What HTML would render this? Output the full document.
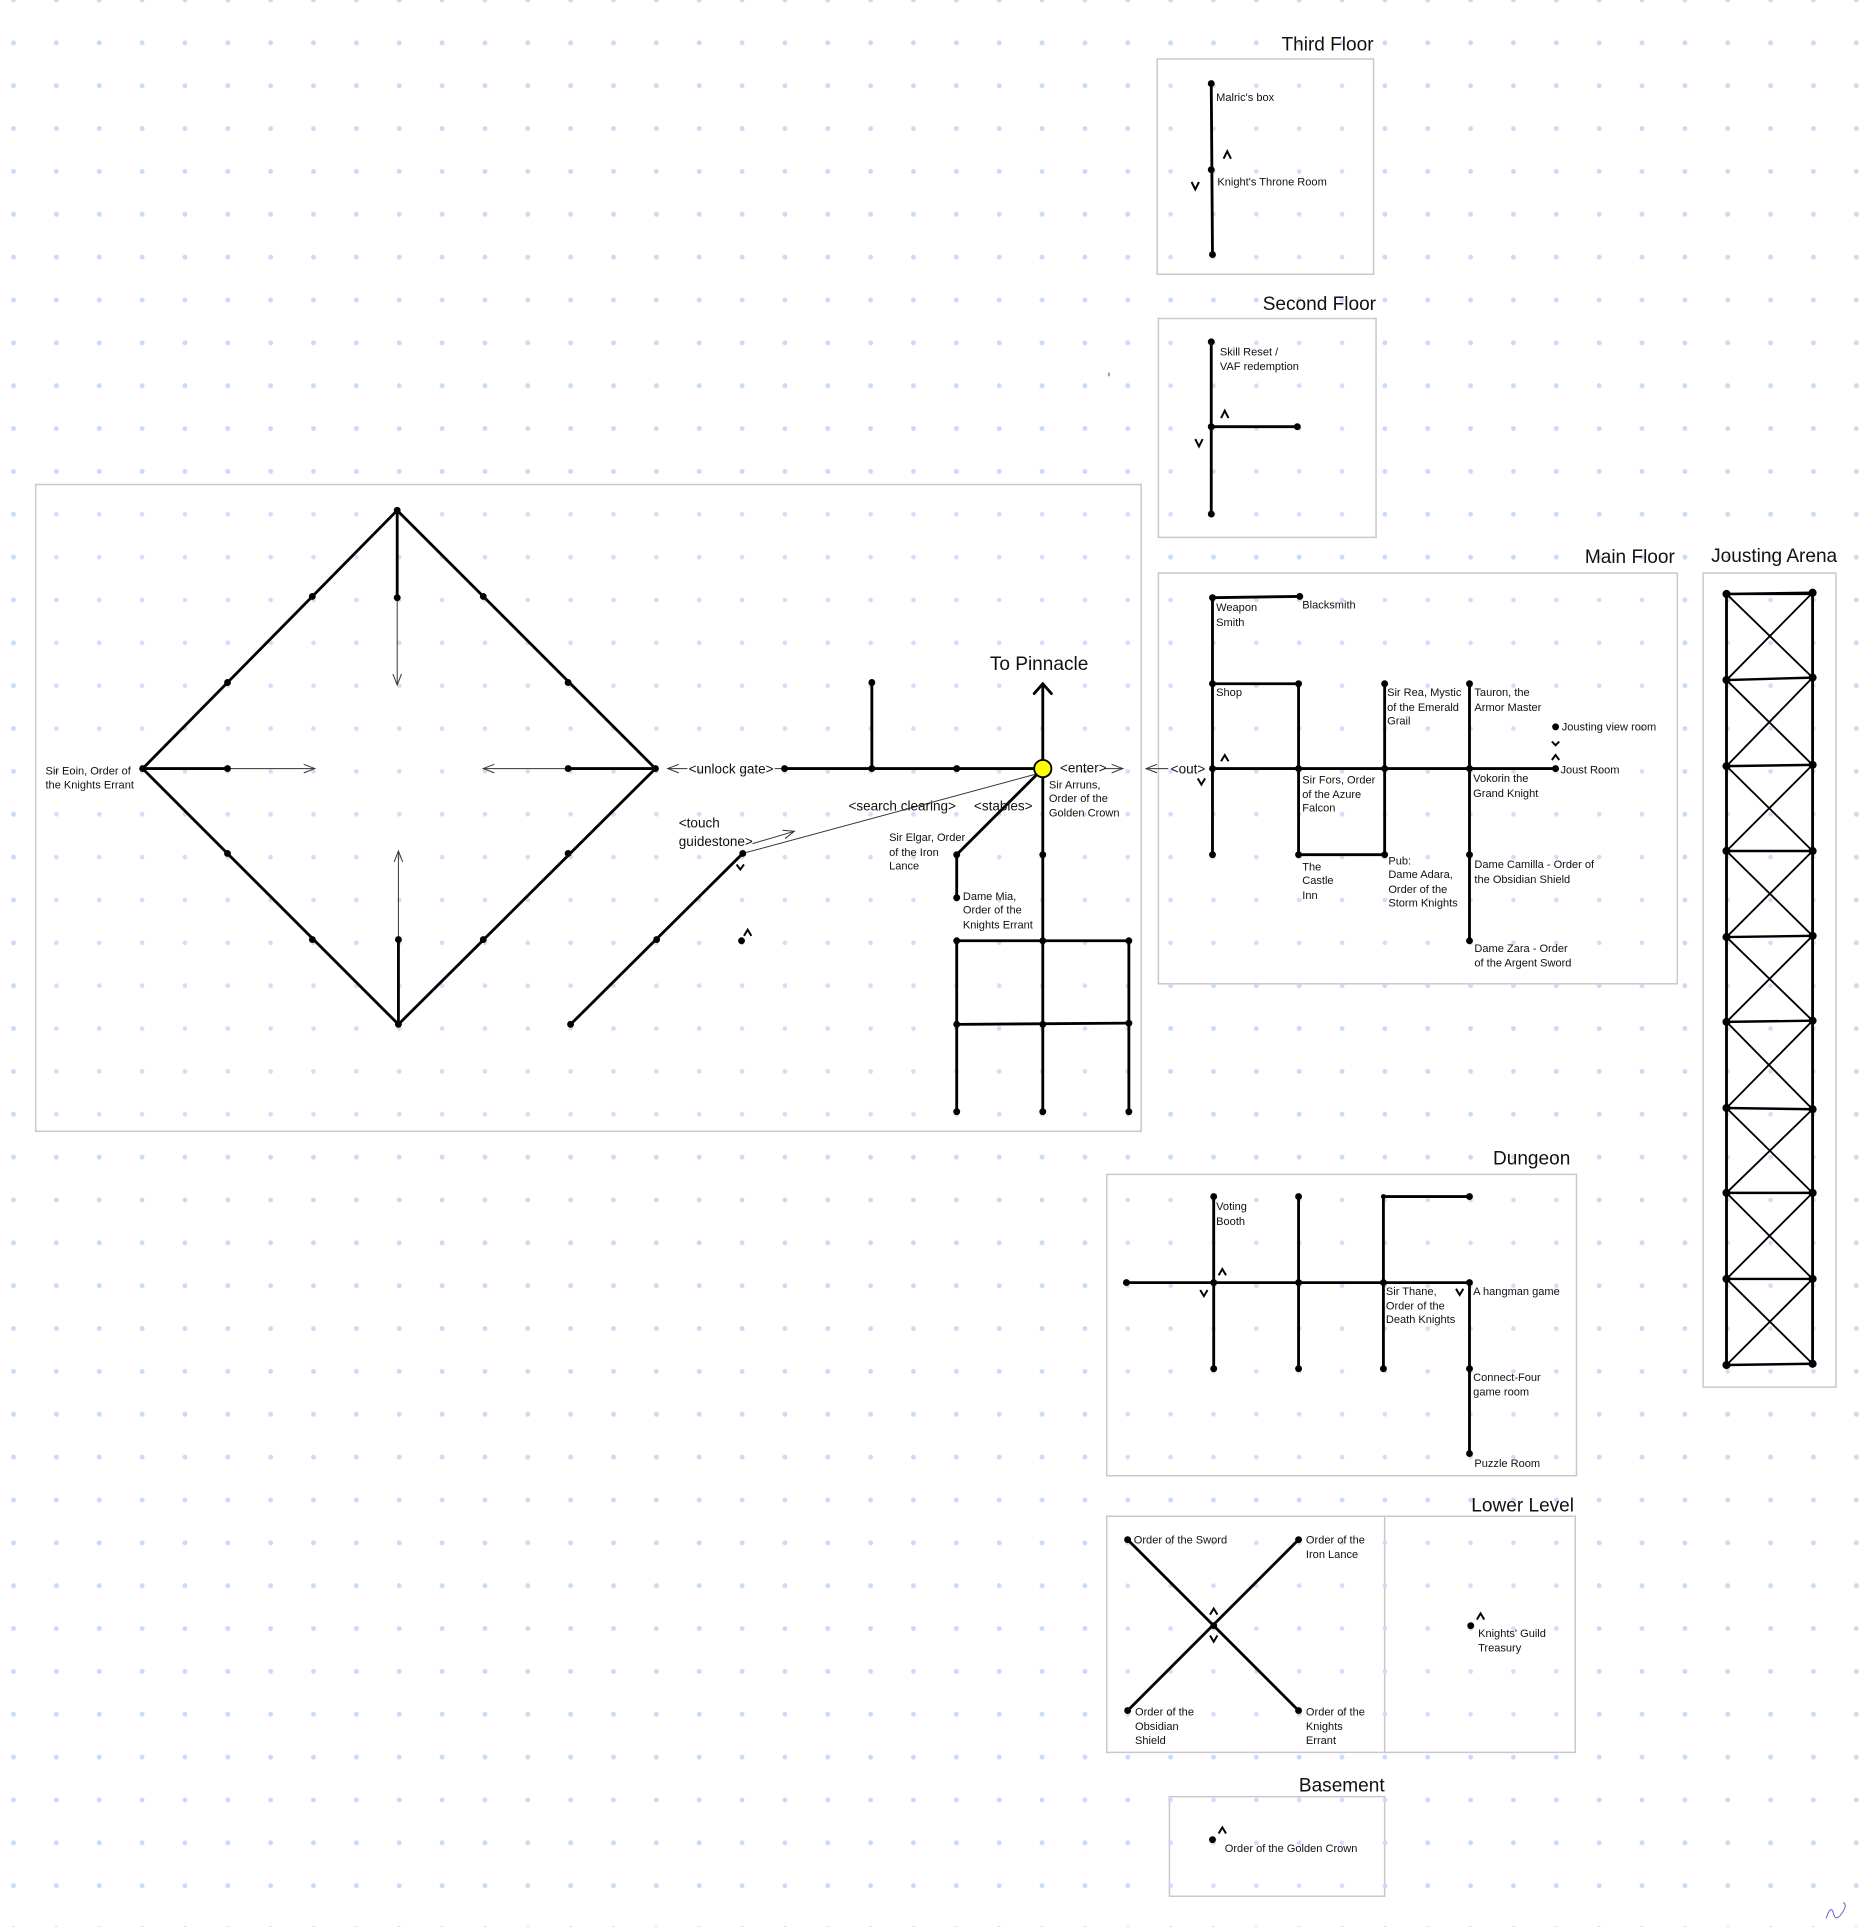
<!DOCTYPE html>
<html><head><meta charset="utf-8"><style>html,body{margin:0;padding:0;background:#fff}svg{display:block}</style></head>
<body>
<svg width="1863" height="1927" viewBox="0 0 1515 1567" preserveAspectRatio="none" xmlns="http://www.w3.org/2000/svg" font-family="Liberation Sans, sans-serif">
<defs>
<pattern id="d" x="-6.4" y="-17.4" width="34.85" height="34.85" patternUnits="userSpaceOnUse"><circle cx="17.4" cy="17.4" r="1.9" fill="#c9dcf6"/></pattern>
<marker id="a" markerWidth="10" markerHeight="8" refX="9" refY="4" orient="auto" markerUnits="userSpaceOnUse"><path d="M0,0.5 L9,4 L0,7.5" fill="none" stroke="#333" stroke-width="0.8"/></marker>
</defs>
<rect width="1515" height="1567" fill="#fff"/>
<rect width="1515" height="1567" fill="url(#d)"/>

<g fill="#fff" stroke="#c8c8c8" stroke-width="1.2">
<rect x="29" y="394" width="899" height="526"/>
<rect x="941" y="48" width="176" height="175"/>
<rect x="942" y="259" width="177" height="178"/>
<rect x="942" y="466" width="422" height="334"/>
<rect x="1385" y="466" width="108" height="662"/>
<rect x="900" y="955" width="382" height="245"/>
<rect x="900" y="1233" width="381" height="192"/>
<line x1="1126" y1="1233" x2="1126" y2="1425"/>
<rect x="951" y="1461" width="175" height="81"/>
</g>
<rect width="1515" height="1567" fill="url(#d)" opacity="0.9"/>

<g font-size="15.5" text-anchor="end" fill="#111">
<text x="1117" y="41">Third Floor</text>
<text x="1119" y="252">Second Floor</text>
<text x="1362" y="458">Main Floor</text>
<text x="1494" y="457">Jousting Arena</text>
<text x="1277" y="947">Dungeon</text>
<text x="1280" y="1229">Lower Level</text>
<text x="1126" y="1457">Basement</text>
</g>
<text x="845" y="545" font-size="15.5" text-anchor="middle" fill="#111">To Pinnacle</text>

<!-- thick lines -->
<g stroke="#000" stroke-width="2.3" fill="none" stroke-linecap="round">
<polygon points="323,415 533,625 324,833 116,625"/>
<line x1="323" y1="415" x2="323" y2="486"/>
<line x1="324" y1="833" x2="324" y2="764"/>
<line x1="116" y1="625" x2="185" y2="625"/>
<line x1="533" y1="625" x2="462" y2="625"/>
<line x1="638" y1="625" x2="848" y2="625"/>
<line x1="709" y1="555" x2="709" y2="625"/>
<line x1="848" y1="625" x2="848" y2="557"/>
<polyline points="841,564 848,556 855,564"/>
<line x1="848" y1="625" x2="778" y2="695"/>
<line x1="778" y1="695" x2="778" y2="730"/>
<line x1="604" y1="694" x2="464" y2="833"/>
<line x1="848" y1="625" x2="848" y2="904"/>
<line x1="778" y1="765" x2="918" y2="765"/>
<line x1="778" y1="833" x2="918" y2="832"/>
<line x1="778" y1="765" x2="778" y2="904"/>
<line x1="918" y1="765" x2="918" y2="904"/>
<!-- third -->
<line x1="985" y1="68" x2="986" y2="207"/>
<!-- second -->
<line x1="985" y1="278" x2="985" y2="418"/>
<line x1="985" y1="347" x2="1055" y2="347"/>
<!-- main -->
<line x1="986" y1="486" x2="986" y2="695"/>
<line x1="986" y1="486" x2="1057" y2="485"/>
<polyline points="986,556 1056,556 1056,695 1126,695 1126,556"/>
<line x1="986" y1="625" x2="1265" y2="625"/>
<line x1="1195" y1="556" x2="1195" y2="765"/>
<!-- jousting -->
<line x1="1404" y1="483" x2="1404" y2="1110"/>
<line x1="1474" y1="483" x2="1474" y2="1110"/>
<!-- dungeon -->
<line x1="916" y1="1043" x2="1195" y2="1043"/>
<line x1="987" y1="973" x2="987" y2="1113"/>
<line x1="1056" y1="973" x2="1056" y2="1113"/>
<polyline points="1195,973 1125,973 1125,1113"/>
<line x1="1195" y1="1043" x2="1195" y2="1182"/>
<!-- lower -->
<line x1="917" y1="1252" x2="1056" y2="1391"/>
<line x1="1056" y1="1252" x2="917" y2="1391"/>
</g>

<!-- jousting Xs and rungs -->
<g stroke="#000" stroke-width="1.8" fill="none">
<path id="jx" d="M1404,483 L1474,483"/>
</g>
<g stroke="#000" stroke-width="2" fill="none" stroke-linecap="round">
<path d="M1404,483L1474,482M1404,553L1474,551M1404,623L1474,622M1404,692L1474,692M1404,762L1474,761M1404,831L1474,830M1404,901L1474,902M1404,970L1474,970M1404,1040L1474,1040M1404,1110L1474,1109"/>
<path stroke-width="1.5" d="M1404,483L1474,551M1474,482L1404,553M1404,553L1474,622M1474,551L1404,623M1404,623L1474,692M1474,622L1404,692M1404,692L1474,761M1474,692L1404,762M1404,762L1474,830M1474,761L1404,831M1404,831L1474,902M1474,830L1404,901M1404,901L1474,970M1474,902L1404,970M1404,970L1474,1040M1474,970L1404,1040M1404,1040L1474,1109M1474,1040L1404,1110"/>
</g>

<!-- thin arrows -->
<g stroke="#333" stroke-width="0.8" fill="none">
<line x1="323" y1="486" x2="323" y2="557" marker-end="url(#a)"/>
<line x1="324" y1="764" x2="324" y2="692" marker-end="url(#a)"/>
<line x1="185" y1="625" x2="256" y2="625" marker-end="url(#a)"/>
<line x1="462" y1="625" x2="393" y2="625" marker-end="url(#a)"/>
<line x1="559" y1="625" x2="543" y2="625" marker-end="url(#a)"/>
<line x1="630" y1="625" x2="638" y2="625"/>
<line x1="898" y1="625" x2="913" y2="625" marker-end="url(#a)"/>
<line x1="950" y1="625" x2="932" y2="625" marker-end="url(#a)"/>
<line x1="612" y1="686" x2="646" y2="676" marker-end="url(#a)"/>
<line x1="848" y1="628" x2="604" y2="694"/>
</g>

<!-- dots -->
<g fill="#000">
<circle cx="323" cy="415" r="2.8"/><circle cx="116" cy="625" r="2.8"/><circle cx="533" cy="625" r="2.8"/><circle cx="324" cy="833" r="2.8"/>
<circle cx="254" cy="485" r="2.8"/><circle cx="185" cy="555" r="2.8"/><circle cx="393" cy="485" r="2.8"/><circle cx="462" cy="555" r="2.8"/>
<circle cx="185" cy="694" r="2.8"/><circle cx="254" cy="764" r="2.8"/><circle cx="393" cy="764" r="2.8"/><circle cx="462" cy="694" r="2.8"/>
<circle cx="323" cy="486" r="2.8"/><circle cx="324" cy="764" r="2.8"/><circle cx="185" cy="625" r="2.8"/><circle cx="462" cy="625" r="2.8"/>
<circle cx="638" cy="625" r="2.8"/><circle cx="709" cy="625" r="2.8"/><circle cx="778" cy="625" r="2.8"/><circle cx="709" cy="555" r="2.8"/>
<circle cx="778" cy="695" r="2.8"/><circle cx="778" cy="730" r="2.8"/>
<circle cx="604" cy="694" r="2.8"/><circle cx="534" cy="764" r="2.8"/><circle cx="464" cy="833" r="2.8"/><circle cx="603" cy="765" r="2.8"/>
<circle cx="848" cy="695" r="2.8"/><circle cx="848" cy="765" r="2.8"/><circle cx="848" cy="833" r="2.8"/><circle cx="848" cy="904" r="2.8"/>
<circle cx="778" cy="765" r="2.8"/><circle cx="918" cy="765" r="2.8"/><circle cx="778" cy="833" r="2.8"/><circle cx="918" cy="832" r="2.8"/>
<circle cx="778" cy="904" r="2.8"/><circle cx="918" cy="904" r="2.8"/>
<circle cx="985" cy="68" r="2.8"/><circle cx="985" cy="138" r="2.8"/><circle cx="986" cy="207" r="2.8"/>
<circle cx="985" cy="278" r="2.8"/><circle cx="985" cy="347" r="2.8"/><circle cx="1055" cy="347" r="2.8"/><circle cx="985" cy="418" r="2.8"/>
<circle cx="986" cy="486" r="2.8"/><circle cx="1057" cy="485" r="2.8"/><circle cx="986" cy="556" r="2.8"/><circle cx="1056" cy="556" r="2.8"/>
<circle cx="986" cy="625" r="2.8"/><circle cx="986" cy="695" r="2.8"/><circle cx="1056" cy="625" r="2.8"/><circle cx="1056" cy="695" r="2.8"/>
<circle cx="1126" cy="556" r="2.8"/><circle cx="1126" cy="625" r="2.8"/><circle cx="1126" cy="695" r="2.8"/>
<circle cx="1195" cy="556" r="2.8"/><circle cx="1195" cy="625" r="2.8"/><circle cx="1195" cy="695" r="2.8"/><circle cx="1195" cy="765" r="2.8"/>
<circle cx="1265" cy="625" r="2.8"/><circle cx="1265" cy="591" r="2.8"/>
<circle cx="987" cy="973" r="2.8"/><circle cx="1056" cy="973" r="2.8"/><circle cx="1195" cy="973" r="2.8"/><circle cx="1125" cy="973" r="2"/>
<circle cx="916" cy="1043" r="2.8"/><circle cx="987" cy="1043" r="2.8"/><circle cx="1056" cy="1043" r="2.8"/><circle cx="1125" cy="1043" r="2.8"/><circle cx="1195" cy="1043" r="2.8"/>
<circle cx="987" cy="1113" r="2.8"/><circle cx="1056" cy="1113" r="2.8"/><circle cx="1125" cy="1113" r="2.8"/><circle cx="1195" cy="1113" r="2.8"/><circle cx="1195" cy="1182" r="2.8"/>
<circle cx="917" cy="1252" r="2.8"/><circle cx="1056" cy="1252" r="2.8"/><circle cx="917" cy="1391" r="2.8"/><circle cx="1056" cy="1391" r="2.8"/><circle cx="987" cy="1322" r="2.8"/>
<circle cx="1196" cy="1322" r="2.8"/><circle cx="986" cy="1496" r="2.8"/>
</g>
<g fill="#000">
<circle cx="1404" cy="483" r="3.3"/><circle cx="1474" cy="482" r="3.3"/><circle cx="1404" cy="553" r="3.3"/><circle cx="1474" cy="551" r="3.3"/>
<circle cx="1404" cy="623" r="3.3"/><circle cx="1474" cy="622" r="3.3"/><circle cx="1404" cy="692" r="3.3"/><circle cx="1474" cy="692" r="3.3"/>
<circle cx="1404" cy="762" r="3.3"/><circle cx="1474" cy="761" r="3.3"/><circle cx="1404" cy="831" r="3.3"/><circle cx="1474" cy="830" r="3.3"/>
<circle cx="1404" cy="901" r="3.3"/><circle cx="1474" cy="902" r="3.3"/><circle cx="1404" cy="970" r="3.3"/><circle cx="1474" cy="970" r="3.3"/>
<circle cx="1404" cy="1040" r="3.3"/><circle cx="1474" cy="1040" r="3.3"/><circle cx="1404" cy="1110" r="3.3"/><circle cx="1474" cy="1109" r="3.3"/>
</g>
<circle cx="848" cy="625" r="7" fill="#ffff00" stroke="#000" stroke-width="1.5"/>

<!-- carets -->
<g stroke="#000" stroke-width="1.6" fill="none">
<path d="M995,129l3,-6l3,6"/><path d="M969,148l3,6l3,-6"/>
<path d="M993,340l3,-6l3,6"/><path d="M972,357l3,6l3,-6"/>
<path d="M993,619l3,-5l3,5"/><path d="M974,633l3,5l3,-5"/>
<path d="M1262,603l3,3l3,-3"/><path d="M1262,618l3,-4l3,4"/>
<path d="M599,703l3,4l3,-4"/><path d="M605,761l3,-5l3,5"/>
<path d="M991,1037l3,-5l3,5"/><path d="M976,1049l3,5l3,-5"/><path d="M1184,1048l3,5l3,-5"/>
<path d="M984,1313l3,-5l3,5"/><path d="M984,1330l3,5l3,-5"/>
<path d="M1201,1317l3,-5l3,5"/><path d="M991,1491l3,-5l3,5"/>
</g>

<!-- labels -->
<g font-size="9" fill="#111">
<text x="989" y="82">Malric's box</text>
<text x="990" y="151">Knight's Throne Room</text>
<text x="992" y="289">Skill Reset /</text><text x="992" y="301">VAF redemption</text>
<text x="989" y="497">Weapon</text><text x="989" y="509">Smith</text>
<text x="1059" y="495">Blacksmith</text>
<text x="989" y="566">Shop</text>
<text x="1128" y="566">Sir Rea, Mystic</text><text x="1128" y="578">of the Emerald</text><text x="1128" y="589">Grail</text>
<text x="1199" y="566">Tauron, the</text><text x="1199" y="578">Armor Master</text>
<text x="1270" y="594">Jousting view room</text>
<text x="1269" y="629">Joust Room</text>
<text x="1059" y="637">Sir Fors, Order</text><text x="1059" y="649">of the Azure</text><text x="1059" y="660">Falcon</text>
<text x="1198" y="636">Vokorin the</text><text x="1198" y="648">Grand Knight</text>
<text x="1059" y="708">The</text><text x="1059" y="719">Castle</text><text x="1059" y="731">Inn</text>
<text x="1129" y="703">Pub:</text><text x="1129" y="714">Dame Adara,</text><text x="1129" y="726">Order of the</text><text x="1129" y="737">Storm Knights</text>
<text x="1199" y="706">Dame Camilla - Order of</text><text x="1199" y="718">the Obsidian Shield</text>
<text x="1199" y="774">Dame Zara - Order</text><text x="1199" y="786">of the Argent Sword</text>
<text x="989" y="984">Voting</text><text x="989" y="996">Booth</text>
<text x="1127" y="1053">Sir Thane,</text><text x="1127" y="1065">Order of the</text><text x="1127" y="1076">Death Knights</text>
<text x="1198" y="1053">A hangman game</text>
<text x="1198" y="1123">Connect-Four</text><text x="1198" y="1135">game room</text>
<text x="1199" y="1193">Puzzle Room</text>
<text x="922" y="1255">Order of the Sword</text>
<text x="1062" y="1255">Order of the</text><text x="1062" y="1267">Iron Lance</text>
<text x="923" y="1395">Order of the</text><text x="923" y="1407">Obsidian</text><text x="923" y="1418">Shield</text>
<text x="1062" y="1395">Order of the</text><text x="1062" y="1407">Knights</text><text x="1062" y="1418">Errant</text>
<text x="1202" y="1331">Knights' Guild</text><text x="1202" y="1343">Treasury</text>
<text x="996" y="1506">Order of the Golden Crown</text>
<text x="37" y="630">Sir Eoin, Order of</text><text x="37" y="641">the Knights Errant</text>
<text x="853" y="641">Sir Arruns,</text><text x="853" y="652">Order of the</text><text x="853" y="664">Golden Crown</text>
<text x="723" y="684">Sir Elgar, Order</text><text x="723" y="696">of the Iron</text><text x="723" y="707">Lance</text>
<text x="783" y="732">Dame Mia,</text><text x="783" y="743">Order of the</text><text x="783" y="755">Knights Errant</text>
</g>
<g font-size="11" fill="#111">
<text x="560" y="629">&lt;unlock gate&gt;</text>
<text x="862" y="628">&lt;enter&gt;</text>
<text x="952" y="629">&lt;out&gt;</text>
<text x="690" y="659">&lt;search clearing&gt;</text>
<text x="792" y="659">&lt;stables&gt;</text>
<text x="552" y="673">&lt;touch</text><text x="552" y="688">guidestone&gt;</text>
</g>
<rect x="901" y="303" width="1.5" height="3" fill="#999"/>
<path d="M1485,1560 q4,-12 6,-4 q2,8 8,-2 q3,-5 0,-7" fill="none" stroke="#6a5acd" stroke-width="0.8"/>
</svg>
</body></html>
